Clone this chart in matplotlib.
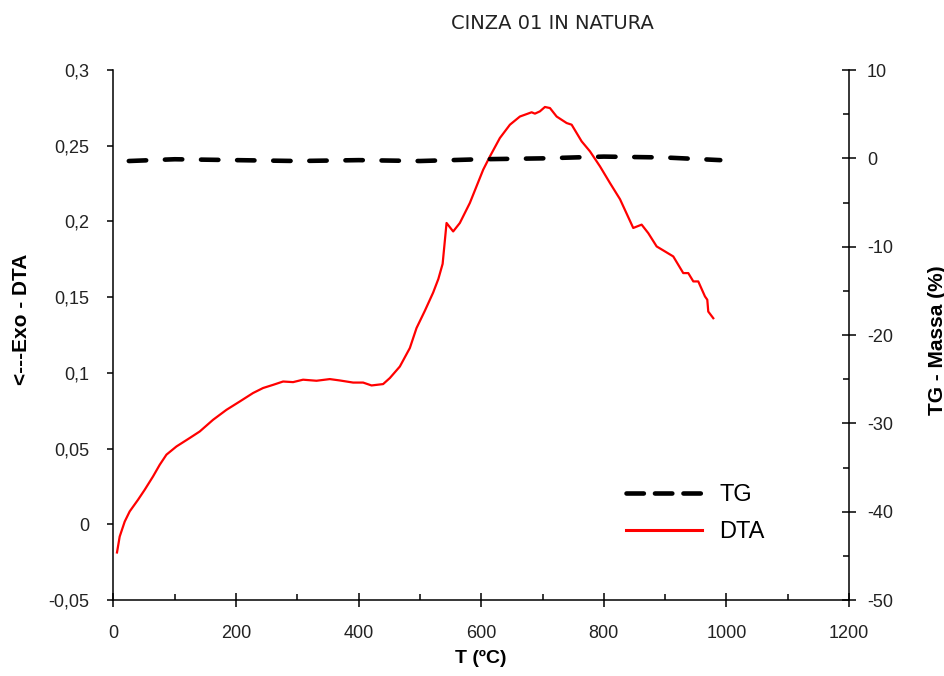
import matplotlib
matplotlib.use("Agg")
import matplotlib.pyplot as plt
from matplotlib.ticker import FuncFormatter, MultipleLocator
from matplotlib.lines import Line2D

plt.rcParams['font.family'] = ['Liberation Sans', 'DejaVu Sans']
plt.rcParams['lines.scale_dashes'] = False

# DTA signal (left axis)
dta_temp = [5.7, 10.1, 18.3, 26.4, 40, 50.9, 64.5, 75.4, 86.4, 102.7, 124.4, 140.7,
            162.4, 184.3, 206, 227.7, 244, 260.4, 276.7, 293, 309.3, 331.2, 352.9,
            369.2, 391, 407.3, 421, 439.9, 450.9, 467.2, 483.5, 494.4, 508, 521.5,
            530, 537, 543.4, 554.2, 565.1, 581.4, 603.2, 614.1, 630.4, 646.8, 663.1,
            682.2, 687.6, 695.7, 703.9, 712.1, 723, 739.3, 747.5, 763.8, 777.4,
            793.7, 810, 826.4, 848, 861.7, 872.5, 886.2, 899.8, 913.3, 929.6, 937.8,
            946, 954.1, 965, 968.8, 970.4, 978.6]
dta_value = [-0.0186, -0.0081, 0.0018, 0.0085, 0.0162, 0.0228, 0.0316, 0.0393, 0.0460,
             0.0514, 0.0570, 0.0613, 0.0690, 0.0756, 0.0811, 0.0867, 0.0900, 0.0921,
             0.0943, 0.0939, 0.0955, 0.0948, 0.0959, 0.0950, 0.0936, 0.0936, 0.0917,
             0.0926, 0.0966, 0.1042, 0.1164, 0.1296, 0.1410, 0.1530, 0.1620, 0.1720,
             0.1990, 0.1934, 0.1990, 0.2122, 0.2342, 0.2429, 0.2551, 0.2639, 0.2693,
             0.2721, 0.2712, 0.2727, 0.2756, 0.2749, 0.2693, 0.2650, 0.2639, 0.2529,
             0.2463, 0.2364, 0.2254, 0.2147, 0.1957, 0.1979, 0.1923, 0.1835, 0.1802,
             0.1769, 0.1659, 0.1659, 0.1604, 0.1604, 0.1505, 0.1483, 0.1405, 0.1361]

# TG mass change (right axis)
tg_temp = [25, 100, 200, 300, 400, 500, 600, 700, 800, 900, 990]
tg_value = [-0.3, -0.1, -0.2, -0.3, -0.2, -0.3, -0.1, 0.0, 0.2, 0.1, -0.2]

title = "CINZA 01 IN NATURA"
x_label = "T (ºC)"
left_label = "<---Exo - DTA"
right_label = "TG - Massa (%)"


def comma(v, pos):
    s = f"{v:.2f}".rstrip('0').rstrip('.')
    if s in ("-0", ""):
        s = "0"
    return s.replace('.', ',')


def plain(v, pos):
    return f"{v:.0f}"


fig = plt.figure(figsize=(9.45, 6.76), dpi=100)
ax = fig.add_axes([0.1201, 0.1124, 0.7783, 0.7840])
ax2 = ax.twinx()

ax.plot(dta_temp, dta_value, color='#ff0000', lw=1.6, solid_joinstyle='round')
ax2.plot(tg_temp, tg_value, color='black', lw=3.3, dashes=(12.5, 13.5),
         dash_capstyle='round')

ax.set_xlim(0, 1200)
ax.set_ylim(-0.05, 0.3)
ax2.set_ylim(-50, 10)

for a in (ax, ax2):
    a.spines['top'].set_visible(False)
    for s in a.spines.values():
        s.set_linewidth(1.1)

ax.spines['right'].set_visible(False)
ax2.spines['left'].set_visible(False)
ax2.spines['bottom'].set_visible(False)

ax.xaxis.set_major_locator(MultipleLocator(200))
ax.xaxis.set_minor_locator(MultipleLocator(100))
ax.yaxis.set_major_locator(MultipleLocator(0.05))
ax.yaxis.set_major_formatter(FuncFormatter(comma))
ax2.yaxis.set_major_locator(MultipleLocator(10))
ax2.yaxis.set_minor_locator(MultipleLocator(5))
ax2.yaxis.set_major_formatter(FuncFormatter(plain))

ax.tick_params(axis='x', which='major', direction='inout', length=10, width=1.1,
               labelsize=13, pad=13)
ax.tick_params(axis='x', which='minor', direction='in', length=4.5, width=1.1)
ax.tick_params(axis='y', which='major', direction='out', length=4.5, width=1.1,
               labelsize=13, pad=13)
ax2.tick_params(axis='y', which='major', direction='inout', length=10, width=1.1,
                labelsize=13, pad=8)
ax2.tick_params(axis='y', which='minor', direction='in', length=4.5, width=1.1)

for lbl in ax.get_xticklabels() + ax.get_yticklabels() + ax2.get_yticklabels():
    lbl.set_color('#222222')

ax.set_xlabel(x_label, fontsize=14, fontweight='bold', labelpad=6)
ax.set_ylabel(left_label, fontsize=15, fontweight='bold')
ax.yaxis.set_label_coords(-0.112, 0.53)
ax2.set_ylabel(right_label, fontsize=15, fontweight='bold', rotation=90)
ax2.yaxis.set_label_coords(1.107, 0.49)

fig.text(0.585, 0.965, title, fontsize=14, color='#222222', ha='center',
         va='center', family=['DejaVu Sans'])

handles = [Line2D([], [], color='black', lw=3.3, dashes=(12.5, 8),
                  dash_capstyle='round'),
           Line2D([], [], color='#ff0000', lw=2.2)]
ax.legend(handles, ["TG", "DTA"], loc='center left',
          bbox_to_anchor=(0.668, 0.163), frameon=False, fontsize=17,
          handlelength=3.2, handletextpad=0.75, labelspacing=0.65)

fig.savefig("out.png", dpi=100)
